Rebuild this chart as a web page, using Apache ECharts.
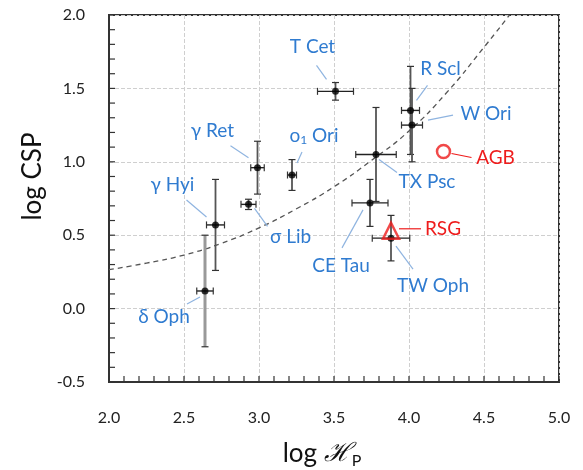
<!DOCTYPE html>
<html>
<head>
<meta charset="utf-8">
<script src="https://cdn.jsdelivr.net/npm/echarts@6/dist/echarts.min.js"></script>
<style>
html,body{margin:0;padding:0;background:#fff;}
#c{width:583px;height:470px;}
</style>
</head>
<body>
<div id="c"></div>
<script>
// ---- data ----
const starNames = ['T Cet','R Scl','W Ori','TX Psc','CE Tau','TW Oph','γ Ret','o1 Ori','σ Lib','γ Hyi','δ Oph'];
const logHp     = [3.51, 4.01, 4.02, 3.78, 3.74, 3.88, 2.99, 3.22, 2.93, 2.71, 2.64];
const logCSP    = [1.48, 1.35, 1.25, 1.05, 0.72, 0.48, 0.96, 0.91, 0.71, 0.57, 0.12];
const errHp     = [0.12, 0.06, 0.07, 0.135, 0.12, 0.125, 0.045, 0.03, 0.05, 0.06, 0.055];
const errCSP    = [0.06, 0.30, 0.25, 0.32, 0.16, 0.155, 0.18, 0.105, 0.035, 0.31, 0.38];

const modelNames = ['AGB', 'RSG'];
const modelHp    = [4.23, 3.88];
const modelCSP   = [1.07, 0.53];

const curveHp  = [2.0, 2.25, 2.5, 2.75, 3.0, 3.25, 3.5, 3.75, 4.0, 4.25, 4.5, 4.67];
const curveCSP = [0.265, 0.31, 0.365, 0.445, 0.55, 0.68, 0.83, 1.01, 1.21, 1.47, 1.78, 2.0];

const xTicks = [2.0, 2.5, 3.0, 3.5, 4.0, 4.5, 5.0];
const yTicks = [-0.5, 0.0, 0.5, 1.0, 1.5, 2.0];

// ---- annotation layout (pixel offsets from each point: label centre, leader start, leader end) ----
const starLabelLayout = {
  'T Cet':  [-23,-44, -19,-26, -9,-12],
  'R Scl':  [30,-42, 17,-25, 6,-10],
  'W Ori':  [74,-11, 41,-10, 16,-5],
  'TX Psc': [51,27, 3,5, 21,18],
  'CE Tau': [-29,63, -28,45, -7,7],
  'TW Oph': [42,48, 5,8, 22,31],
  'γ Ret':  [-45,-37, -27,-22, -9,-10],
  'o1 Ori': [22,-39, 10,-23, 5,-12],
  'σ Lib':  [42,33, 6,4, 19,22],
  'γ Hyi':  [-43,-40, -29,-25, -9,-8],
  'δ Oph':  [-41,26, -18,13, -5,6]
};
const modelLabelLayout = {
  'AGB': [52,6, 8,2, 28,6],
  'RSG': [52,-2, 8,-2, 30,-2]
};

const FONT = 'Lato, "Open Sans", sans-serif';
const BLUE = '#2f7bd0';
const LEADER = '#8fb4e0';
const RED = '#ee1c1c';
const MINOR_PER_MAJOR = 5;

const starData = starNames.map((n,i)=>[logHp[i], logCSP[i], errHp[i], errCSP[i], i]);
const modelData = modelNames.map((n,i)=>[modelHp[i], modelCSP[i], i]);
const curveData = curveHp.map((x,i)=>[x, curveCSP[i]]);

// inward tick marks on bottom (axis 0) and left (axis 1), major + minor subdivisions
function tickList(ticks, axisIdx){
  const out = [];
  for (let i = 0; i < ticks.length; i++){
    out.push([ticks[i], axisIdx]);
    if (i < ticks.length - 1){
      const step = (ticks[i+1] - ticks[i]) / MINOR_PER_MAJOR;
      for (let k = 1; k < MINOR_PER_MAJOR; k++) out.push([ticks[i] + k*step, axisIdx]);
    }
  }
  return out;
}
const tickData = tickList(xTicks, 0).concat(tickList(yTicks, 1));
const xMin = xTicks[0], yMin = yTicks[0];

function labelText(name){
  if (name === 'o1 Ori') return '{n|o}{s|1}{n| Ori}';
  return '{n|' + name + '}';
}

function axisStyle(){
  return {
    axisLine: { show: true, onZero: false, lineStyle: { color: '#333', width: 2 } },
    axisTick: { show: false },
    minorTick: { show: false },
    splitLine: { show: true, lineStyle: { color: '#cfcfcf', type: 'dashed', width: 1 } }
  };
}

const chart = echarts.init(document.getElementById('c'));
chart.setOption({
  animation: false,
  grid: { left: 109, right: 24, top: 15, bottom: 88, containLabel: false, outerBoundsMode: 'none',
          show: true, borderColor: '#333', borderWidth: 2, backgroundColor: 'transparent' },
  xAxis: Object.assign({
    type: 'value', min: 2.0, max: 5.0, interval: 0.5,
    name: 'log {h|ℋ}{p|P}', nameLocation: 'middle', nameGap: 57,
    nameTextStyle: { fontFamily: FONT, fontSize: 26, color: '#111', padding: [0,24,0,0],
      rich: { h: { fontFamily: '"DejaVu Serif", serif', fontStyle: 'italic', fontSize: 26, color: '#111' },
              p: { fontFamily: FONT, fontSize: 16, color: '#111', padding: [14,0,0,0] } } },
    axisLabel: { fontFamily: FONT, fontSize: 16, color: '#222', margin: 28, formatter: v => v.toFixed(1) }
  }, axisStyle()),
  yAxis: Object.assign({
    type: 'value', min: -0.5, max: 2.0, interval: 0.5,
    name: 'log CSP', nameLocation: 'middle', nameGap: 50, nameRotate: 90,
    nameTextStyle: { fontFamily: FONT, fontSize: 26, color: '#111', padding: [0,0,0,44] },
    axisLabel: { fontFamily: FONT, fontSize: 16, color: '#222', margin: 24, formatter: v => v.toFixed(1) }
  }, axisStyle()),
  series: [
    {
      type: 'custom', data: tickData, z: 10, silent: true, clip: false,
      renderItem: function(params, api){
        const v = api.value(0), a = api.value(1);
        const len = 6;
        if (a === 0){
          const p = api.coord([v, yMin]);
          return { type: 'line', shape: { x1: p[0], y1: p[1], x2: p[0], y2: p[1]-len },
                   style: { stroke: '#333', lineWidth: 1.2 } };
        }
        const p = api.coord([xMin, v]);
        return { type: 'line', shape: { x1: p[0], y1: p[1], x2: p[0]+len, y2: p[1] },
                 style: { stroke: '#333', lineWidth: 1.2 } };
      }
    },
    {
      type: 'line', data: curveData, smooth: 0.5, symbol: 'none', z: 3,
      lineStyle: { color: '#555', width: 1.3, type: [5,4] }, silent: true
    },
    {
      type: 'custom', data: starData, z: 4,
      renderItem: function(params, api){
        const x = api.value(0), y = api.value(1), ex = api.value(2), ey = api.value(3);
        const name = starNames[api.value(4)];
        const L = api.coord([x-ex, y]), R = api.coord([x+ex, y]);
        const T = api.coord([x, y+ey]), B = api.coord([x, y-ey]);
        const c = 3.5;
        const vCol = name === 'δ Oph' ? '#999' : '#555';
        const vW = name === 'δ Oph' ? 3 : 1.8;
        const hs = { stroke: '#222', lineWidth: 1.4 };
        const vs = { stroke: vCol, lineWidth: vW };
        const cs = { stroke: '#333', lineWidth: 1.2 };
        return { type: 'group', children: [
          { type: 'line', shape: { x1: T[0], y1: T[1], x2: B[0], y2: B[1] }, style: vs },
          { type: 'line', shape: { x1: T[0]-c, y1: T[1], x2: T[0]+c, y2: T[1] }, style: cs },
          { type: 'line', shape: { x1: B[0]-c, y1: B[1], x2: B[0]+c, y2: B[1] }, style: cs },
          { type: 'line', shape: { x1: L[0], y1: L[1], x2: R[0], y2: R[1] }, style: hs },
          { type: 'line', shape: { x1: L[0], y1: L[1]-c, x2: L[0], y2: L[1]+c }, style: cs },
          { type: 'line', shape: { x1: R[0], y1: R[1]-c, x2: R[0], y2: R[1]+c }, style: cs }
        ]};
      }
    },
    {
      type: 'scatter', data: starData.map(d=>[d[0], d[1]]), z: 5,
      symbol: 'circle', symbolSize: 7, itemStyle: { color: '#000' }
    },
    {
      type: 'scatter', data: [modelData[0].slice(0,2)], z: 6,
      symbol: 'circle', symbolSize: 13,
      itemStyle: { color: 'rgba(0,0,0,0)', borderColor: RED, borderWidth: 2.5 }
    },
    {
      type: 'scatter', data: [modelData[1].slice(0,2)], z: 6,
      symbol: 'triangle', symbolSize: [16,16],
      itemStyle: { color: 'rgba(0,0,0,0)', borderColor: RED, borderWidth: 2.5 }
    },
    {
      type: 'custom', data: starData, z: 7,
      renderItem: function(params, api){
        const name = starNames[api.value(4)];
        const p = api.coord([api.value(0), api.value(1)]);
        const o = starLabelLayout[name];
        return { type: 'group', children: [
          { type: 'line', shape: { x1: p[0]+o[2], y1: p[1]+o[3], x2: p[0]+o[4], y2: p[1]+o[5] },
            style: { stroke: LEADER, lineWidth: 1.2 } },
          { type: 'text', x: p[0]+o[0], y: p[1]+o[1],
            style: { text: labelText(name), align: 'center', verticalAlign: 'middle',
              rich: { n: { fontFamily: FONT, fontSize: 19, fill: BLUE, color: BLUE },
                      s: { fontFamily: FONT, fontSize: 12, fill: BLUE, color: BLUE, padding: [8,0,0,0] } } } }
        ]};
      }
    },
    {
      type: 'custom', data: modelData, z: 7,
      renderItem: function(params, api){
        const name = modelNames[api.value(2)];
        const p = api.coord([api.value(0), api.value(1)]);
        const o = modelLabelLayout[name];
        return { type: 'group', children: [
          { type: 'line', shape: { x1: p[0]+o[2], y1: p[1]+o[3], x2: p[0]+o[4], y2: p[1]+o[5] },
            style: { stroke: RED, lineWidth: 1.2 } },
          { type: 'text', x: p[0]+o[0], y: p[1]+o[1],
            style: { text: name, align: 'center', verticalAlign: 'middle',
              font: '19px ' + FONT, fill: RED } }
        ]};
      }
    }
  ]
});
</script>
</body>
</html>
